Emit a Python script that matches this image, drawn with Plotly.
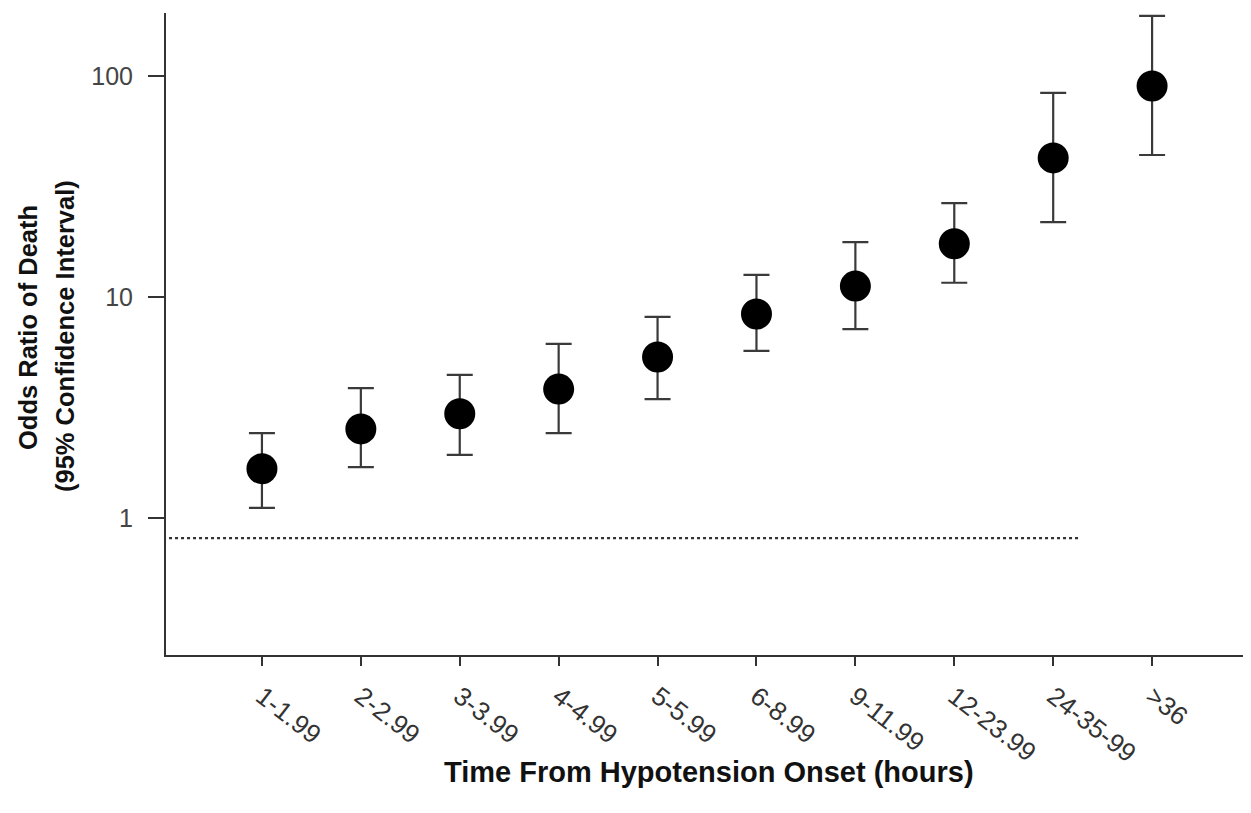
import plotly.graph_objects as go

categories = ["1-1.99", "2-2.99", "3-3.99", "4-4.99", "5-5.99", "6-8.99",
              "9-11.99", "12-23.99", "24-35-99", ">36"]
odds_ratio = [1.67, 2.53, 2.96, 3.83, 5.35, 8.37, 11.2, 17.4, 42.6, 90.1]
ci_upper = [2.42, 3.87, 4.44, 6.13, 8.12, 12.6, 17.7, 26.6, 83.8, 187.0]
ci_lower = [1.11, 1.70, 1.93, 2.42, 3.45, 5.70, 7.16, 11.6, 21.8, 43.9]
reference_value = 0.81
reference_x = [-1.0, 8.28]

xpos = list(range(len(categories)))
err_plus = [u - v for u, v in zip(ci_upper, odds_ratio)]
err_minus = [v - l for v, l in zip(odds_ratio, ci_lower)]

fig = go.Figure()
fig.add_trace(go.Scatter(
    x=reference_x, y=[reference_value, reference_value], mode="lines",
    line=dict(color="#333333", width=2.2, dash="dot"), hoverinfo="skip",
    showlegend=False))
fig.add_trace(go.Scatter(
    x=xpos, y=odds_ratio, mode="markers",
    marker=dict(color="black", size=31, symbol="circle"),
    error_y=dict(type="data", symmetric=False, array=err_plus,
                 arrayminus=err_minus, color="#3a3a3a", thickness=2.2, width=13),
    showlegend=False))

font_family = "Liberation Sans, Arial, sans-serif"
title_font = dict(family=font_family, size=25.5, color="#111111")
fig.update_layout(
    width=1251, height=813,
    margin=dict(l=158, r=8, t=5, b=166),
    paper_bgcolor="white", plot_bgcolor="white",
    font=dict(family=font_family, color="#222222"),
    xaxis=dict(
        range=[-0.97, 10.0], tickmode="array", tickvals=xpos, ticktext=categories,
        tickangle=38, ticks="outside", ticklen=9, tickwidth=2, tickcolor="#333333",
        showline=True, linecolor="#333333", linewidth=2, showgrid=False,
        zeroline=False, tickfont=dict(size=26, color="#333333"),
        ticklabelstandoff=5,
    ),
    yaxis=dict(
        type="log", range=[-0.62, 2.285], tickmode="array",
        tickvals=[1, 10, 100], ticktext=["1", "10", "100"],
        ticks="outside", ticklen=16, tickwidth=2, tickcolor="#333333",
        showline=True, linecolor="#333333", linewidth=2, showgrid=False,
        zeroline=False, tickfont=dict(size=25, color="#444444"),
        ticklabelstandoff=10,
    ),
    annotations=[
        dict(text="<b>Time From Hypotension Onset (hours)</b>", xref="paper",
             yref="paper", x=0.5, y=0, xanchor="center", yanchor="middle",
             yshift=-117, showarrow=False, font=dict(family=font_family, size=29, color="#111111")),
        dict(text="<b>Odds Ratio of Death</b>", xref="paper", yref="paper",
             x=0, y=0.5, xanchor="center", yanchor="middle", xshift=-138,
             yshift=6, textangle=-90, showarrow=False, font=title_font),
        dict(text="<b>(95% Confidence Interval)</b>", xref="paper", yref="paper",
             x=0, y=0.5, xanchor="center", yanchor="middle", xshift=-101,
             yshift=-2, textangle=-90, showarrow=False, font=title_font),
    ],
)

fig.write_html("out.html")
